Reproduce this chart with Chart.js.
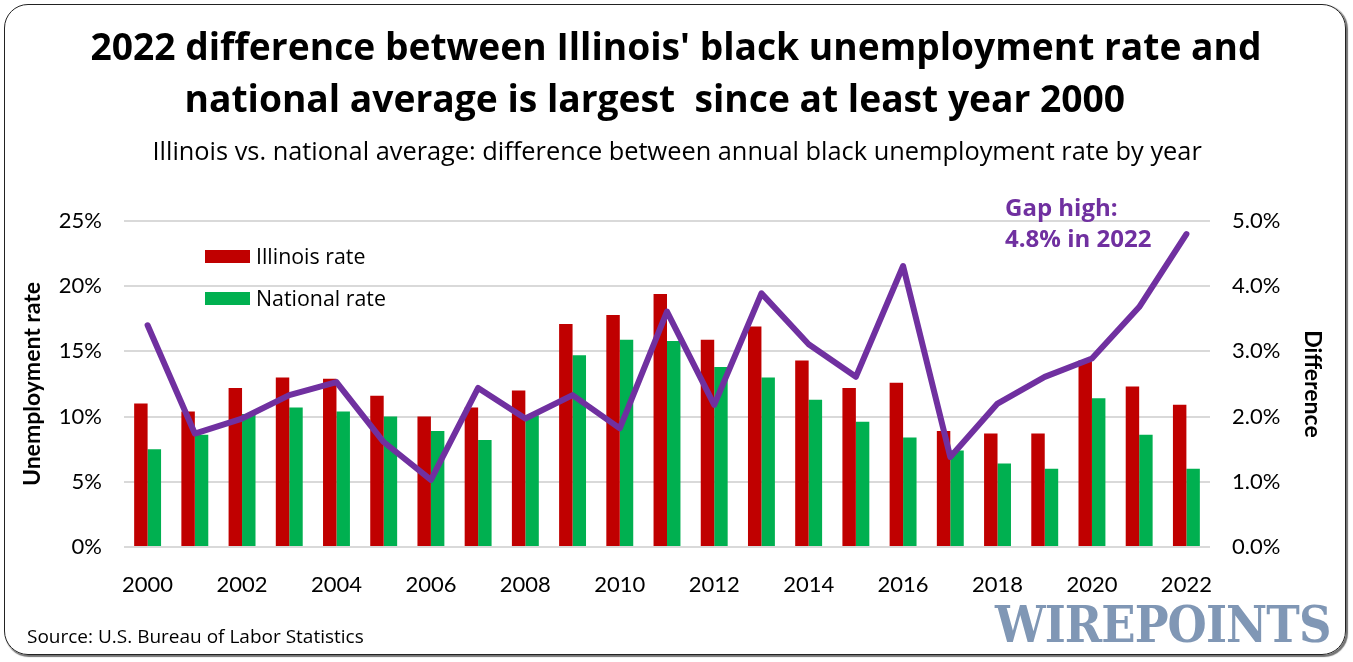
<!DOCTYPE html>
<html>
<head>
<meta charset="utf-8">
<script src="https://cdn.jsdelivr.net/npm/chart.js@4.4.0/dist/chart.umd.min.js"></script>
<style>
  html, body { margin: 0; padding: 0; background: #fff; }
  body { width: 1353px; height: 662px; position: relative; overflow: hidden; font-family: "Open Sans", Lato, sans-serif; color: #000; }
  #wrap { position: absolute; left: 0; top: 0; width: 1353px; height: 662px; }
  #frame { position: absolute; left: 4px; top: 4px; width: 1340px; height: 649px; border: 1.5px solid #222; border-radius: 24px; box-shadow: 1.5px 1.5px 1px rgba(0,0,0,0.55); pointer-events: none; }
  .t { position: absolute; white-space: nowrap; line-height: 1; }
  #title1, #title2 { font-weight: 700; font-size: 36px; }
  #subtitle { font-size: 23px; }
  .leg { position: absolute; font-size: 20px; white-space: nowrap; line-height: 1; }
  .sw { position: absolute; width: 45px; height: 13px; }
  #annot { font-weight: 700; font-size: 24px; color: #7030A0; line-height: 31px; }
  #source { font-size: 18px; }
  #wm { font-family: "DejaVu Serif", serif; font-weight: 700; font-size: 50px; color: #8097b5; transform-origin: left top; transform: scaleX(0.9); letter-spacing: -1px; }
</style>
</head>
<body>
<div id="wrap"><canvas id="c" width="1353" height="662"></canvas></div>
<div id="frame"></div>
<div class="t" id="title1">2022 difference between Illinois' black unemployment rate and</div>
<div class="t" id="title2">national average is largest &nbsp;since at least year 2000</div>
<div class="t" id="subtitle">Illinois vs. national average: difference between annual black unemployment rate by year</div>
<div class="sw" style="left:205px;top:250px;background:#C00000"></div>
<div class="leg" id="leg1" style="left:256px;top:245px">Illinois rate</div>
<div class="sw" style="left:205px;top:292px;background:#00B050"></div>
<div class="leg" id="leg2" style="left:256px;top:287px">National rate</div>
<div class="t" id="annot" style="left:1005px;top:191px">Gap high:<br>4.8% in 2022</div>
<div class="t" id="source" style="left:27px;top:627px">Source: U.S. Bureau of Labor Statistics</div>
<div class="t" id="wm" style="left:995px;top:600px">WIREPOINTS</div>
<script>
const years = ['2000','2001','2002','2003','2004','2005','2006','2007','2008','2009','2010','2011','2012','2013','2014','2015','2016','2017','2018','2019','2020','2021','2022'];
const illinoisRate = [11.0,10.4,12.2,13.0,12.9,11.6,10.0,10.7,12.0,17.1,17.8,19.4,15.9,16.9,14.3,12.2,12.6,8.9,8.7,8.7,14.3,12.3,10.9];
const nationalRate = [7.5,8.6,10.2,10.7,10.4,10.0,8.9,8.2,10.1,14.7,15.9,15.8,13.8,13.0,11.3,9.6,8.4,7.4,6.4,6.0,11.4,8.6,6.0];
const difference = [3.40,1.74,1.97,2.33,2.53,1.61,1.03,2.44,1.97,2.33,1.82,3.61,2.18,3.89,3.11,2.61,4.31,1.38,2.20,2.61,2.89,3.68,4.80];
const leftTicks = [0,5,10,15,20,25];
const rightTicks = [0,1,2,3,4,5];

const tickFont = { family: 'Lato', size: 22 };
new Chart(document.getElementById('c'), {
  data: {
    labels: years,
    datasets: [
      { type: 'line', label: 'Difference', data: difference, yAxisID: 'y1', borderColor: '#7030A0', borderWidth: 6, pointRadius: 0, tension: 0, order: 0, borderJoinStyle: 'round', borderCapStyle: 'round' },
      { type: 'bar', label: 'Illinois rate', data: illinoisRate, yAxisID: 'y', backgroundColor: '#C00000', categoryPercentage: 0.57, barPercentage: 1.0, order: 1 },
      { type: 'bar', label: 'National rate', data: nationalRate, yAxisID: 'y', backgroundColor: '#00B050', categoryPercentage: 0.57, barPercentage: 1.0, order: 1 }
    ]
  },
  options: {
    responsive: false,
    animation: false,
    devicePixelRatio: 1,
    layout: { padding: { left: 0, right: 0, top: 221, bottom: 0 } },
    plugins: { legend: { display: false }, tooltip: { enabled: false }, title: { display: false } },
    scales: {
      x: {
        grid: { display: false },
        border: { display: false },
        ticks: { font: tickFont, color: '#000', padding: 17, maxRotation: 0, autoSkip: false,
          callback: function(v, i) { return i % 2 === 0 ? years[i] : ''; } },
        afterFit: s => { s.height = 115; }
      },
      y: {
        position: 'left', min: 0, max: 25,
        afterBuildTicks: s => { s.ticks = leftTicks.map(v => ({ value: v })); },
        grid: { color: '#d9d9d9', lineWidth: 2, drawTicks: false },
        border: { display: false },
        ticks: { font: tickFont, color: '#000', padding: 22, callback: v => v + '%' },
        title: { display: true, text: 'Unemployment rate', font: { family: 'Lato', size: 23, weight: 'bold' }, color: '#000', padding: { top: 19, bottom: 0 } },
        afterFit: s => { s.width = 124; }
      },
      y1: {
        position: 'right', min: 0, max: 5,
        afterBuildTicks: s => { s.ticks = rightTicks.map(v => ({ value: v })); },
        grid: { display: false, drawTicks: false },
        border: { display: false },
        ticks: { font: tickFont, color: '#000', padding: 22, callback: v => v.toFixed(1) + '%' },
        title: { display: true, text: 'Difference', font: { family: 'Lato', size: 23, weight: 'bold' }, color: '#000', padding: { top: 27, bottom: 0 } },
        afterFit: s => { s.width = 143; }
      }
    }
  }
});

function fitWidth(id, target) {
  const el = document.getElementById(id);
  const fs = parseFloat(getComputedStyle(el).fontSize);
  el.style.fontSize = (fs * target / el.offsetWidth) + 'px';
  return parseFloat(el.style.fontSize);
}
function centerAt(id, cx, top) {
  const el = document.getElementById(id);
  el.style.left = (cx - el.offsetWidth / 2) + 'px';
  el.style.top = top + 'px';
}
const tfs = fitWidth('title1', 1172);
document.getElementById('title2').style.fontSize = tfs + 'px';
fitWidth('subtitle', 1050);
fitWidth('leg1', 109);
document.getElementById('leg2').style.fontSize = document.getElementById('leg1').style.fontSize;
fitWidth('source', 337);
centerAt('title1', 676, 27);
centerAt('title2', 655, 79);
centerAt('subtitle', 677, 138);
</script>
</body>
</html>
